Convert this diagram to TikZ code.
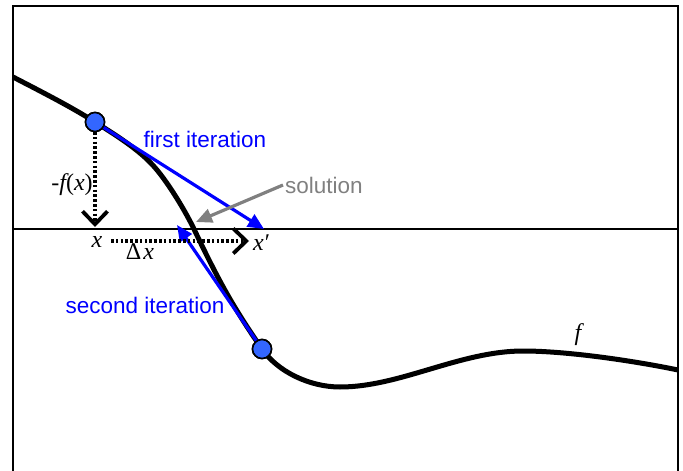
\documentclass[tikz,border=0pt]{standalone}
\usepackage{fontspec}
\setmainfont{Liberation Serif}
\newfontfamily\labelsans{Liberation Sans}
\usetikzlibrary{arrows.meta}
\definecolor{ptblue}{RGB}{51,102,255}
\definecolor{arrblue}{RGB}{0,0,255}
\definecolor{solgray}{RGB}{128,128,128}
\tikzset{
  sanslabel/.style={font=\labelsans\fontsize{22.5}{26}\selectfont, inner sep=0pt},
  mathlabel/.style={font=\fontsize{24}{28}\selectfont\itshape, inner sep=0pt},
  curveline/.style={line width=5pt, black},
  iterarrow/.style={line width=3.2pt, arrblue, -{Triangle[length=16pt,width=14pt]}},
  solarrow/.style={line width=3.2pt, solgray, -{Triangle[length=16pt,width=14pt]}},
  dotarrow/.style={line width=3.2pt, black, dash pattern=on 2.6pt off 2.2pt, -{Straight Barb[length=13pt,width=25pt,line width=3.8pt]}},
  iterpoint/.style={circle, draw=black, line width=1.6pt, fill=ptblue, minimum size=19pt, inner sep=0pt},
}
\begin{document}
\begin{tikzpicture}[x=1pt,y=-1pt]
\useasboundingbox (0,0) rectangle (683,471);
% frame and axis
\draw[line width=2pt] (13,6) rectangle (678,490);
\coordinate (axL) at (13,229);
\coordinate (axR) at (678,229);
\draw[line width=1.8pt] (axL) -- (axR);
% curve f
\draw[curveline] (13,77) .. controls (40,91) and (70,106.2) .. (95,122)
  .. controls (118,136.5) and (142,151.5) .. (157,170)
  .. controls (167,182) and (182,205) .. (193,227)
  .. controls (218,279.5) and (232,305.5) .. (262,349)
  .. controls (278,372) and (310,387) .. (340,387)
  .. controls (400,387) and (460,351) .. (523,351)
  .. controls (570,351) and (640,362) .. (678,370);
% points
\node[iterpoint] (p1) at (95,122) {};
\node[iterpoint] (p2) at (262,349) {};
% coordinates
\coordinate (xnew) at (264,229);
\coordinate (xsec) at (177,225);
\coordinate (solS) at (283,185);
\coordinate (solE) at (196,222);
\coordinate (vS) at (95,132);
\coordinate (vE) at (95,227);
\coordinate (hS) at (111,241);
\coordinate (hE) at (249,241);
% arrows
\draw[iterarrow] (p1.center) -- (xnew);
\draw[iterarrow] (p2.center) -- (xsec);
\node[iterpoint] at (p1) {};
\node[iterpoint] at (p2) {};
\draw[solarrow] (solS) -- (solE);
\draw[dotarrow] (vS) -- (vE);
\draw[dotarrow] (hS) -- (hE);
% labels
\node[sanslabel, text=arrblue, anchor=base] (t1) at (205,147) {first iteration};
\node[sanslabel, text=arrblue, anchor=base] (t2) at (145,313) {second iteration};
\node[sanslabel, text=solgray, anchor=base west] (sol) at (285,193) {solution};
\node[mathlabel, anchor=base] (fx) at (72,190) {\upshape-\itshape f\upshape(\itshape x\upshape)};
\node[mathlabel, anchor=base] (xl) at (97,247) {x};
\node[mathlabel, anchor=base west] (xpl) at (253,250) {x\upshape\hspace{1pt}′};
\node[mathlabel, anchor=base] (dx) at (140,259) {\upshape Δ\hspace{2pt}\itshape x};
\node[mathlabel, anchor=base] (fl) at (578,340) {f};
\end{tikzpicture}
\end{document}
